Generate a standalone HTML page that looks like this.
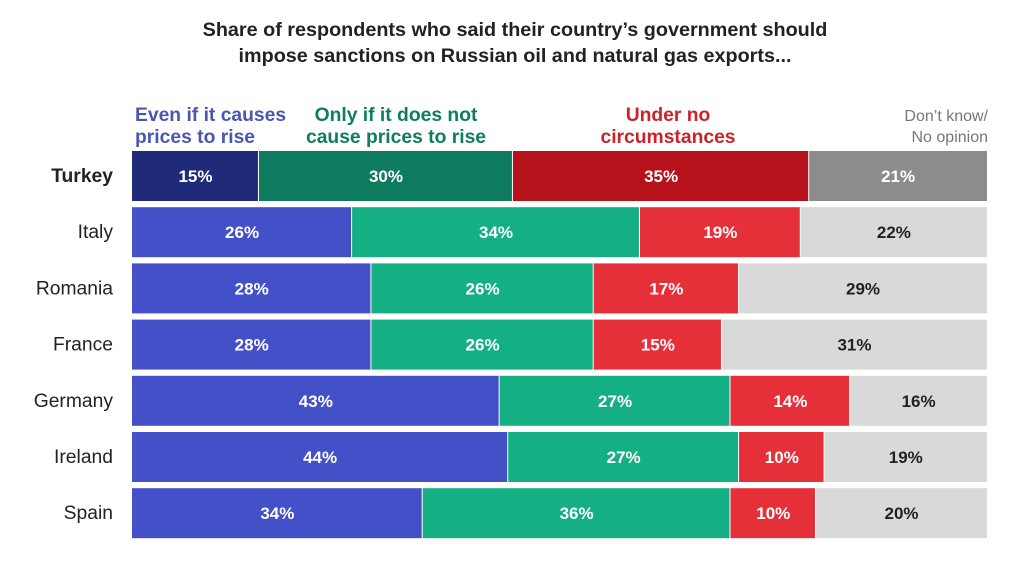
<!DOCTYPE html>
<html><head><meta charset="utf-8"><style>
body{margin:0;background:#fff;font-family:"Liberation Sans",Arial,sans-serif;}
svg{display:block}
</style></head><body>
<svg id="chart" width="1035" height="562">
<text x="515" y="36" text-anchor="middle" font-size="19.8" font-weight="bold" fill="#222">Share of respondents who said their country’s government should</text>
<text x="515" y="62" text-anchor="middle" font-size="19.8" font-weight="bold" fill="#222">impose sanctions on Russian oil and natural gas exports...</text>
<g>
<text x="135" y="121" font-size="19.3" font-weight="bold" fill="#4a56b0"><tspan x="135">Even if it causes</tspan><tspan x="135" dy="22">prices to rise</tspan></text>
<text x="396" y="121" text-anchor="middle" font-size="19.3" font-weight="bold" fill="#0f7d5f"><tspan x="396">Only if it does not</tspan><tspan x="396" dy="22">cause prices to rise</tspan></text>
<text x="668" y="121" text-anchor="middle" font-size="19.3" font-weight="bold" fill="#cc2229"><tspan x="668">Under no</tspan><tspan x="668" dy="22">circumstances</tspan></text>
<text x="988" y="121" text-anchor="end" font-size="16" fill="#777"><tspan x="988">Don’t know/</tspan><tspan x="988" dy="21">No opinion</tspan></text>
</g>
<g id="bars"></g>
</svg>
<script>
const countries=["Turkey","Italy","Romania","France","Germany","Ireland","Spain"];
const evenIf=[15,26,28,28,43,44,34];
const onlyIf=[30,34,26,26,27,27,36];
const noCirc=[35,19,17,15,14,10,10];
const dontKnow=[21,22,29,31,16,19,20];
const x0=132,x1=987,y0=151,pitch=56.2,bh=50;
const normal=["#4350c8","#14b083","#e5303a","#d9d9d9"];
const dark=["#1f2a78","#0e7a5e","#b5121b","#8c8c8c"];
const txt=["#fff","#fff","#fff","#222"];
const g=document.getElementById('bars');
const NS="http://www.w3.org/2000/svg";
const keys=["even","only","none","dk"];
countries.forEach((c,i)=>{
  const vals=[evenIf[i],onlyIf[i],noCirc[i],dontKnow[i]];
  const sum=vals.reduce((a,b)=>a+b,0);
  const y=y0+i*pitch;
  const hl=i===0;
  const lab=document.createElementNS(NS,'text');
  
  
  lab.setAttribute('x',113);lab.setAttribute('y',y+bh/2+6);
  lab.setAttribute('text-anchor','end');lab.setAttribute('font-size','19.3');
  lab.setAttribute('fill','#222');if(hl)lab.setAttribute('font-weight','bold');
  lab.textContent=c;g.appendChild(lab);
  let acc=0;
  vals.forEach((v,k)=>{
    const xa=x0+(x1-x0)*acc/sum, xb=x0+(x1-x0)*(acc+v)/sum;acc+=v;
    const r=document.createElementNS(NS,'rect');
    
    
    r.setAttribute('x',xa);r.setAttribute('y',y);
    r.setAttribute('width',Math.max(0,xb-xa-(k<3?1:0)));r.setAttribute('height',bh);
    r.setAttribute('fill',(hl?dark:normal)[k]);g.appendChild(r);
    const t=document.createElementNS(NS,'text');
    
    
    t.setAttribute('x',(xa+xb)/2);t.setAttribute('y',y+bh/2+6);
    t.setAttribute('text-anchor','middle');t.setAttribute('font-size','17');
    t.setAttribute('font-weight','bold');
    t.setAttribute('fill',hl?"#fff":txt[k]);
    t.textContent=v+'%';g.appendChild(t);
  });
});
</script>
</body></html>
